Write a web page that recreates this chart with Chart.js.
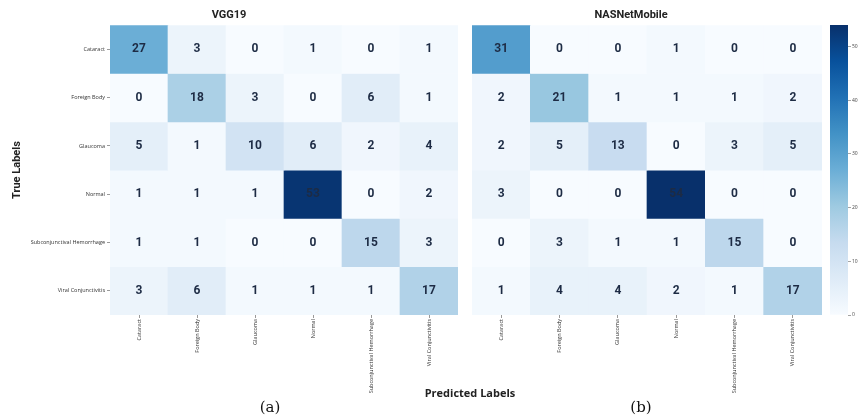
<!DOCTYPE html>
<html>
<head>
<meta charset="utf-8">
<script src="https://cdn.jsdelivr.net/npm/chart.js@4.4.1/dist/chart.umd.min.js"></script>
<style>
  html, body { margin: 0; padding: 0; background: #ffffff; }
  body { position: relative; width: 859px; height: 419px; overflow: hidden; }
  canvas { position: absolute; top: 0; }
  .lbl { position: absolute; white-space: nowrap; transform: translate(-50%, -50%); color: #222; }
  #xTitle { left: 470px; top: 392px; font: bold 11px "Open Sans", "DejaVu Sans", sans-serif; }
  .sub { top: 407px; font: 15px "DejaVu Serif", "Liberation Serif", serif; color: #111; }
</style>
</head>
<body>
<canvas id="cmLeft" width="516" height="419" style="left:0px"></canvas>
<canvas id="cmRight" width="460" height="419" style="left:440px"></canvas>
<canvas id="cbar" width="33" height="419" style="left:826px"></canvas>
<div id="xTitle" class="lbl">Predicted Labels</div>
<div class="lbl sub" style="left:270px">(a)</div>
<div class="lbl sub" style="left:641px">(b)</div>
<script>
// Class names shared by both confusion matrices (rows = true, columns = predicted)
const classLabels = ['Cataract', 'Foreign Body', 'Glaucoma', 'Normal', 'Subconjunctival Hemorrhage', 'Viral Conjunctivitis'];

// VGG19 confusion matrix counts
const vgg19Counts = [
  [27, 3, 0, 1, 0, 1],
  [0, 18, 3, 0, 6, 1],
  [5, 1, 10, 6, 2, 4],
  [1, 1, 1, 53, 0, 2],
  [1, 1, 0, 0, 15, 3],
  [3, 6, 1, 1, 1, 17]
];

// NASNetMobile confusion matrix counts
const nasnetCounts = [
  [31, 0, 0, 1, 0, 0],
  [2, 21, 1, 1, 1, 2],
  [2, 5, 13, 0, 3, 5],
  [3, 0, 0, 54, 0, 0],
  [0, 3, 1, 1, 15, 0],
  [1, 4, 4, 2, 1, 17]
];

// Colour scale range and colour bar ticks
const colorMin = 0;
const colorMax = 54;
const colorbarTicks = [0, 10, 20, 30, 40, 50];

// Matplotlib "Blues" colormap stops
const bluesStops = ['#f7fbff', '#deebf7', '#c6dbef', '#9ecae1', '#6baed6', '#4292c6', '#2171b5', '#08519c', '#08306b'];

function hexToRgb(h) {
  const n = parseInt(h.slice(1), 16);
  return [(n >> 16) & 255, (n >> 8) & 255, n & 255];
}
function blues(v) {
  let t = (v - colorMin) / (colorMax - colorMin);
  t = Math.max(0, Math.min(1, t));
  const pos = t * (bluesStops.length - 1);
  const i = Math.min(Math.floor(pos), bluesStops.length - 2);
  const f = pos - i;
  const a = hexToRgb(bluesStops[i]), b = hexToRgb(bluesStops[i + 1]);
  const c = a.map((x, k) => Math.round(x + (b[k] - x) * f));
  return `rgb(${c[0]},${c[1]},${c[2]})`;
}

const numberFont = '"Roboto", "Liberation Sans Narrow", "DejaVu Sans", sans-serif';
const tickFont = '"Open Sans", "DejaVu Sans", sans-serif';

// Writes each cell's count at the centre of its bar
const cellValuePlugin = {
  id: 'cellValues',
  afterDatasetsDraw(chart) {
    const ctx = chart.ctx;
    ctx.save();
    ctx.font = `bold 12px ${numberFont}`;
    ctx.fillStyle = '#1d2b44';
    ctx.textAlign = 'center';
    ctx.textBaseline = 'middle';
    chart.data.datasets.forEach((ds, d) => {
      const meta = chart.getDatasetMeta(d);
      meta.data.forEach((bar, c) => {
        const p = bar.getProps(['x', 'y', 'base'], true);
        ctx.fillText(String(ds.counts[c]), p.x, (p.y + p.base) / 2);
      });
    });
    ctx.restore();
  }
};

// One floating-bar dataset per true-label row; each bar spans its row band
function heatmapDatasets(counts) {
  return classLabels.map((rowName, r) => ({
    label: rowName,
    counts: counts[r],
    data: classLabels.map(() => [r, r + 1]),
    backgroundColor: counts[r].map(blues),
    borderWidth: 0,
    grouped: false,
    barPercentage: 1,
    categoryPercentage: 1
  }));
}

function heatmapConfig(title, counts, showRowLabels, yWidth, padRight) {
  return {
    type: 'bar',
    data: { labels: classLabels, datasets: heatmapDatasets(counts) },
    plugins: [cellValuePlugin],
    options: {
      responsive: false,
      animation: false,
      events: [],
      layout: { padding: { left: 0, right: padRight, top: 0, bottom: 0 } },
      plugins: {
        legend: { display: false },
        tooltip: { enabled: false },
        title: {
          display: true,
          text: title,
          color: '#222',
          font: { family: numberFont, size: 11, weight: 'bold' },
          padding: { top: 9, bottom: 3 }
        }
      },
      scales: {
        x: {
          type: 'category',
          offset: true,
          border: { display: false },
          grid: { display: true, drawOnChartArea: false, offset: false, tickLength: 3, color: '#555', tickWidth: 0.6 },
          ticks: {
            autoSkip: false, minRotation: 90, maxRotation: 90, padding: 1,
            color: '#333', font: { family: tickFont, size: 5.5 }
          },
          afterFit: (s) => { s.height = 104; }
        },
        y: {
          type: 'linear',
          min: 0, max: 6, reverse: true,
          border: { display: false },
          grid: { display: showRowLabels, drawOnChartArea: false, tickLength: 3, color: '#555', tickWidth: 0.6 },
          ticks: {
            display: showRowLabels, padding: 2, color: '#333',
            font: { family: tickFont, size: 5.5 },
            callback: (v) => classLabels[Math.floor(v)]
          },
          afterBuildTicks: (s) => { s.ticks = classLabels.map((_, i) => ({ value: i + 0.5 })); },
          title: {
            display: showRowLabels, text: 'True Labels', color: '#222',
            font: { family: numberFont, size: 11, weight: 'bold' },
            padding: { top: 11, bottom: 0 }
          },
          afterFit: (s) => { s.width = yWidth; }
        }
      }
    }
  };
}

new Chart(document.getElementById('cmLeft'), heatmapConfig('VGG19', vgg19Counts, true, 110, 58));
new Chart(document.getElementById('cmRight'), heatmapConfig('NASNetMobile', nasnetCounts, false, 32, 78));

// Colour bar: one floating bar over the full range, filled with the Blues gradient
new Chart(document.getElementById('cbar'), {
  type: 'bar',
  data: {
    labels: [''],
    datasets: [{
      data: [[colorMin, colorMax]],
      borderWidth: 0,
      barPercentage: 1,
      categoryPercentage: 1,
      backgroundColor: (ctx) => {
        const chart = ctx.chart;
        if (!chart.chartArea) return bluesStops[0];
        const ys = chart.scales.y;
        const g = chart.ctx.createLinearGradient(0, ys.getPixelForValue(colorMin), 0, ys.getPixelForValue(colorMax));
        bluesStops.forEach((c, i) => g.addColorStop(i / (bluesStops.length - 1), c));
        return g;
      }
    }]
  },
  options: {
    responsive: false,
    animation: false,
    events: [],
    layout: { padding: { left: 4, right: 0, top: 25, bottom: 104 } },
    plugins: { legend: { display: false }, tooltip: { enabled: false } },
    scales: {
      x: { display: false },
      y: {
        position: 'right',
        min: colorMin, max: colorMax,
        border: { display: false },
        grid: { drawOnChartArea: false, tickLength: 3, color: '#666', tickWidth: 0.6 },
        ticks: { padding: 1, color: '#444', font: { family: tickFont, size: 5 } },
        afterBuildTicks: (s) => { s.ticks = colorbarTicks.map((v) => ({ value: v })); },
        afterFit: (s) => { s.width = 11; }
      }
    }
  }
});
</script>
</body>
</html>
